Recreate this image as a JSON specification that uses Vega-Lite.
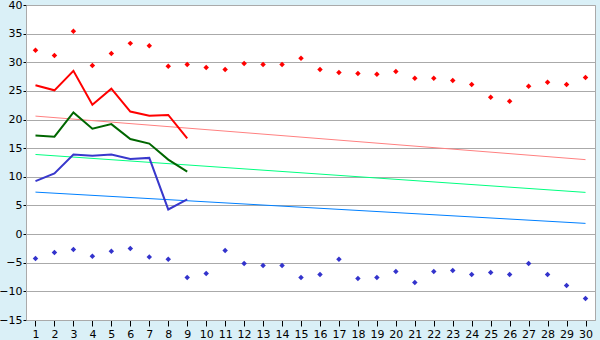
{
  "$schema": "https://vega.github.io/schema/vega-lite/v6.json",
  "width": 569,
  "height": 315,
  "autosize": "none",
  "padding": {"left": 26, "top": 5, "right": 5, "bottom": 20},
  "background": "#daf0f7",
  "view": {"fill": "white", "stroke": "#aaaaaa", "strokeWidth": 1},
  "config": {
    "font": "DejaVu Sans",
    "axis": {"labelFont": "DejaVu Sans", "labelFontSize": 11, "labelColor": "black", "domainColor": "#aaaaaa", "tickColor": "black", "gridColor": "#aaaaaa", "gridOpacity": 1}
  },
  "datasets": {
    "obs": [
      {"day": 1, "series": "max", "value": 32.1}, {"day": 2, "series": "max", "value": 31.2}, {"day": 3, "series": "max", "value": 35.4},
      {"day": 4, "series": "max", "value": 29.45}, {"day": 5, "series": "max", "value": 31.55}, {"day": 6, "series": "max", "value": 33.3},
      {"day": 7, "series": "max", "value": 32.9}, {"day": 8, "series": "max", "value": 29.3}, {"day": 9, "series": "max", "value": 29.6},
      {"day": 10, "series": "max", "value": 29.1}, {"day": 11, "series": "max", "value": 28.75}, {"day": 12, "series": "max", "value": 29.8},
      {"day": 13, "series": "max", "value": 29.6}, {"day": 14, "series": "max", "value": 29.6}, {"day": 15, "series": "max", "value": 30.7},
      {"day": 16, "series": "max", "value": 28.75}, {"day": 17, "series": "max", "value": 28.2}, {"day": 18, "series": "max", "value": 28.05},
      {"day": 19, "series": "max", "value": 27.9}, {"day": 20, "series": "max", "value": 28.4}, {"day": 21, "series": "max", "value": 27.2},
      {"day": 22, "series": "max", "value": 27.2}, {"day": 23, "series": "max", "value": 26.8}, {"day": 24, "series": "max", "value": 26.1},
      {"day": 25, "series": "max", "value": 23.9}, {"day": 26, "series": "max", "value": 23.2}, {"day": 27, "series": "max", "value": 25.8},
      {"day": 28, "series": "max", "value": 26.5}, {"day": 29, "series": "max", "value": 26.1}, {"day": 30, "series": "max", "value": 27.35},
      {"day": 1, "series": "min", "value": -4.25}, {"day": 2, "series": "min", "value": -3.2}, {"day": 3, "series": "min", "value": -2.7},
      {"day": 4, "series": "min", "value": -3.85}, {"day": 5, "series": "min", "value": -3.0}, {"day": 6, "series": "min", "value": -2.5},
      {"day": 7, "series": "min", "value": -4.0}, {"day": 8, "series": "min", "value": -4.4}, {"day": 9, "series": "min", "value": -7.57},
      {"day": 10, "series": "min", "value": -6.87}, {"day": 11, "series": "min", "value": -2.85}, {"day": 12, "series": "min", "value": -5.12},
      {"day": 13, "series": "min", "value": -5.47}, {"day": 14, "series": "min", "value": -5.47}, {"day": 15, "series": "min", "value": -7.57},
      {"day": 16, "series": "min", "value": -7.04}, {"day": 17, "series": "min", "value": -4.4}, {"day": 18, "series": "min", "value": -7.74},
      {"day": 19, "series": "min", "value": -7.57}, {"day": 20, "series": "min", "value": -6.52}, {"day": 21, "series": "min", "value": -8.44},
      {"day": 22, "series": "min", "value": -6.52}, {"day": 23, "series": "min", "value": -6.35}, {"day": 24, "series": "min", "value": -7.04},
      {"day": 25, "series": "min", "value": -6.69}, {"day": 26, "series": "min", "value": -7.04}, {"day": 27, "series": "min", "value": -5.12},
      {"day": 28, "series": "min", "value": -7.04}, {"day": 29, "series": "min", "value": -8.96}, {"day": 30, "series": "min", "value": -11.23}
    ],
    "lines": [
      {"day": 1, "series": "high", "value": 26.0}, {"day": 2, "series": "high", "value": 25.1}, {"day": 3, "series": "high", "value": 28.5},
      {"day": 4, "series": "high", "value": 22.6}, {"day": 5, "series": "high", "value": 25.4}, {"day": 6, "series": "high", "value": 21.4},
      {"day": 7, "series": "high", "value": 20.65}, {"day": 8, "series": "high", "value": 20.8}, {"day": 9, "series": "high", "value": 16.7},
      {"day": 1, "series": "mean", "value": 17.2}, {"day": 2, "series": "mean", "value": 17.0}, {"day": 3, "series": "mean", "value": 21.25},
      {"day": 4, "series": "mean", "value": 18.4}, {"day": 5, "series": "mean", "value": 19.2}, {"day": 6, "series": "mean", "value": 16.6},
      {"day": 7, "series": "mean", "value": 15.8}, {"day": 8, "series": "mean", "value": 13.0}, {"day": 9, "series": "mean", "value": 10.9},
      {"day": 1, "series": "low", "value": 9.25}, {"day": 2, "series": "low", "value": 10.6}, {"day": 3, "series": "low", "value": 13.9},
      {"day": 4, "series": "low", "value": 13.7}, {"day": 5, "series": "low", "value": 13.9}, {"day": 6, "series": "low", "value": 13.1},
      {"day": 7, "series": "low", "value": 13.3}, {"day": 8, "series": "low", "value": 4.3}, {"day": 9, "series": "low", "value": 6.05},
      {"day": 1, "series": "trendHigh", "value": 20.6}, {"day": 30, "series": "trendHigh", "value": 13.0},
      {"day": 1, "series": "trendMean", "value": 13.9}, {"day": 30, "series": "trendMean", "value": 7.28},
      {"day": 1, "series": "trendLow", "value": 7.33}, {"day": 30, "series": "trendLow", "value": 1.87}
    ]
  },
  "encoding": {
    "x": {
      "field": "day", "type": "ordinal",
      "scale": {"type": "point", "padding": 0.5, "domain": [1,2,3,4,5,6,7,8,9,10,11,12,13,14,15,16,17,18,19,20,21,22,23,24,25,26,27,28,29,30]},
      "axis": {"title": null, "labelAngle": 0, "grid": false, "tickSize": 6, "labelPadding": 2, "domain": true}
    },
    "y": {
      "field": "value", "type": "quantitative",
      "scale": {"domain": [-15, 40], "nice": false, "zero": false},
      "axis": {"title": null, "values": [-15,-10,-5,0,5,10,15,20,25,30,35,40], "tickSize": 3, "labelPadding": 1, "grid": true, "domain": true}
    },
    "color": {
      "field": "series", "type": "nominal", "legend": null,
      "scale": {
        "domain": ["max", "min", "high", "mean", "low", "trendHigh", "trendMean", "trendLow"],
        "range": ["#ff0000", "#3333cc", "#ff0000", "#006600", "#3838cc", "#ff8080", "#00ff80", "#0080ff"]
      }
    }
  },
  "layer": [
    {
      "data": {"name": "lines"},
      "transform": [{"filter": "indexof(datum.series, 'trend') === 0"}],
      "mark": {"type": "line", "strokeWidth": 1}
    },
    {
      "data": {"name": "lines"},
      "transform": [{"filter": "indexof(datum.series, 'trend') !== 0"}],
      "mark": {"type": "line", "strokeWidth": 2}
    },
    {
      "data": {"name": "obs"},
      "mark": {"type": "point", "shape": "diamond", "filled": true, "size": 30, "opacity": 1}
    }
  ]
}
